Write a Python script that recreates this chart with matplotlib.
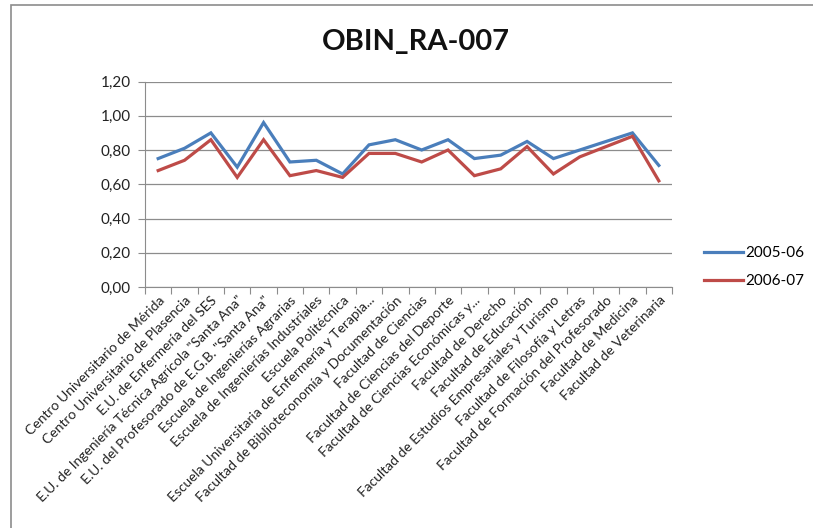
import numpy as np
import matplotlib
matplotlib.use("Agg")
import matplotlib.pyplot as plt
from matplotlib.patches import Rectangle
from matplotlib.ticker import FixedLocator, FuncFormatter

plt.rcParams["font.family"] = ["Lato", "DejaVu Sans"]

centros = [
    "Centro Universitario de Mérida",
    "Centro Universitario de Plasencia",
    "E.U. de Enfermería del SES",
    "E.U. de Ingeniería Técnica Agrícola \"Santa Ana\"",
    "E.U. del Profesorado de E.G.B. \"Santa Ana\"",
    "Escuela de Ingenierías Agrarias",
    "Escuela de Ingenierías Industriales",
    "Escuela Politécnica",
    "Escuela Universitaria de Enfermería y Terapia...",
    "Facultad de Biblioteconomía y Documentación",
    "Facultad de Ciencias",
    "Facultad de Ciencias del Deporte",
    "Facultad de Ciencias Económicas y...",
    "Facultad de Derecho",
    "Facultad de Educación",
    "Facultad de Estudios Empresariales y Turismo",
    "Facultad de Filosofía y Letras",
    "Facultad de Formación del Profesorado",
    "Facultad de Medicina",
    "Facultad de Veterinaria",
]
v_0506 = [0.75, 0.81, 0.90, 0.70, 0.96, 0.73, 0.74, 0.66, 0.83, 0.86,
          0.80, 0.86, 0.75, 0.77, 0.85, 0.75, 0.80, 0.85, 0.90, 0.71]
v_0607 = [0.68, 0.74, 0.86, 0.64, 0.86, 0.65, 0.68, 0.64, 0.78, 0.78,
          0.73, 0.80, 0.65, 0.69, 0.82, 0.66, 0.76, 0.82, 0.88, 0.62]
yticks = [0.0, 0.2, 0.4, 0.6, 0.8, 1.0, 1.2]

W, H = 813, 528
fig = plt.figure(figsize=(W / 100, H / 100), dpi=100)
ax = fig.add_axes([145 / W, 1 - 287 / H, (672 - 145) / W, (287 - 81.5) / H])

x = np.arange(len(centros))
l1, = ax.plot(x, v_0506, color="#4A7EBB", lw=2.3, label="2005-06", solid_joinstyle="miter")
l2, = ax.plot(x, v_0607, color="#BE4B48", lw=2.3, label="2006-07", solid_joinstyle="miter")

ax.set_xlim(-0.5, len(centros) - 0.5)
ax.set_ylim(0, 1.2)
ax.yaxis.set_major_locator(FixedLocator(yticks))
ax.yaxis.set_major_formatter(FuncFormatter(lambda v, _: f"{v:.2f}".replace(".", ",")))
ax.grid(axis="y", color="#8c8c8c", lw=0.9)
ax.set_axisbelow(True)
for s in ("top", "right"):
    ax.spines[s].set_visible(False)
for s in ("left", "bottom"):
    ax.spines[s].set_color("#8c8c8c")

# category ticks between groups, labels at group centres
ax.set_xticks(np.arange(len(centros) + 1) - 0.5)
ax.set_xticklabels([])
ax.set_xticks(x, minor=True)
ax.set_xticklabels(centros, minor=True, rotation=45, ha="right", va="top",
                   rotation_mode="anchor", fontsize=10, color="#222222")
ax.tick_params(axis="x", which="minor", length=0, pad=5)
ax.tick_params(axis="x", which="major", length=5, color="#8c8c8c", direction="out")
ax.tick_params(axis="y", length=5, colors="#8c8c8c", labelcolor="#222222", labelsize=11, pad=5)

fig.text(416 / W, 1 - 42 / H, "OBIN_RA-007", ha="center", va="center",
         fontsize=21, fontweight="bold", color="#111111")

fig.legend(handles=[l1, l2], loc="center left", bbox_to_anchor=(690 / W, 1 - 267 / H),
           frameon=False, fontsize=11, handlelength=2.6, handletextpad=0.1,
           labelspacing=0.9)

# chart area frame (only left and top edges fall inside the image)
fig.patches.append(Rectangle((11 / W, -10 / H), (W + 20) / W, (H + 5) / H,
                             transform=fig.transFigure, fill=False,
                             edgecolor="#8c8c8c", lw=1.2))

fig.savefig("out.png", dpi=100)
